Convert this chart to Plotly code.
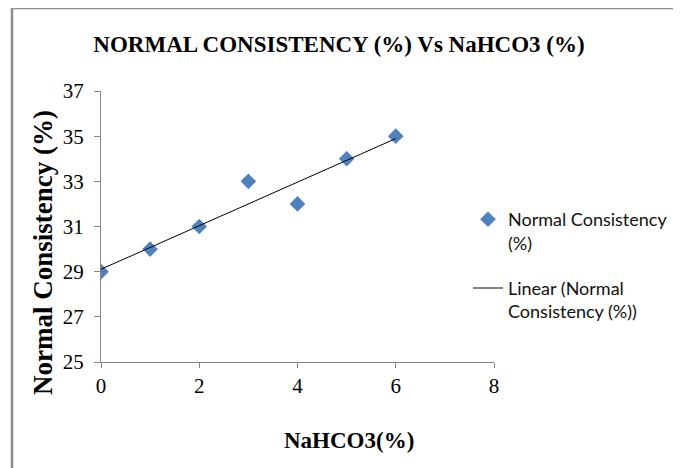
import numpy as np
import plotly.graph_objects as go

nahco3 = [0, 1, 2, 3, 4, 5, 6]
consistency = [29, 30, 31, 33, 32, 34, 35]
x_ticks = [0, 2, 4, 6, 8]
y_ticks = [25, 27, 29, 31, 33, 35, 37]

slope, intercept = np.polyfit(nahco3, consistency, 1)
trend_x = [min(nahco3), max(nahco3)]
trend_y = [intercept + slope * v for v in trend_x]

W, H = 681, 468
OFF = 8  # page body offset
PL, PT, PW, PH = 101, 91, 393, 271  # target plot area in screenshot pixels
L, T = PL - OFF, PT - OFF
R, B = W - L - PW, H - T - PH


def px(xs):
    return (xs - PL) / PW


def py(ys):
    return (PT + PH - ys) / PH


serif = "Liberation Serif, Times New Roman, serif"
axis_col = "#868686"

fig = go.Figure()
fig.add_trace(go.Scatter(
    x=nahco3, y=consistency, mode="markers",
    name="Normal Consistency<br>(%)",
    marker=dict(symbol="diamond", size=12, color="#4F81BD"),
    legendgroup="a",
))
fig.add_trace(go.Scatter(
    x=trend_x, y=trend_y, mode="lines",
    name="Linear (Normal<br>Consistency (%))",
    line=dict(color="#000000", width=1),
    legendgroup="b",
))

fig.update_layout(
    width=W, height=H,
    margin=dict(l=L, r=R, t=T, b=B),
    paper_bgcolor="white", plot_bgcolor="white",
    title=dict(text="<b>NORMAL CONSISTENCY (%) Vs NaHCO3 (%)</b>",
               x=(339 - OFF) / W, y=1 - (44 - OFF) / H,
               xanchor="center", yanchor="middle",
               font=dict(family=serif, size=23, color="#000")),
    xaxis=dict(range=[0, 8], tickvals=x_ticks, showgrid=False, zeroline=False,
               showline=True, linecolor=axis_col, linewidth=1,
               ticks="outside", ticklen=5, tickcolor=axis_col,
               tickfont=dict(family=serif, size=21, color="#000"),
               ticklabelstandoff=0),
    yaxis=dict(range=[25, 37], tickvals=y_ticks, showgrid=False, zeroline=False,
               showline=True, linecolor=axis_col, linewidth=1,
               ticks="outside", ticklen=6, tickcolor=axis_col,
               tickfont=dict(family=serif, size=21, color="#000"),
               ticklabelstandoff=6),
    legend=dict(x=px(468), y=py(201), xanchor="left", yanchor="top",
                valign="top",
                font=dict(family="Lato, sans-serif", size=18, color="#111"),
                tracegroupgap=19, bgcolor="rgba(0,0,0,0)"),
    showlegend=True,
)

fig.add_annotation(text="<b>Normal Consistency (%)</b>", textangle=-90,
                   xref="paper", yref="paper", x=px(43), y=py(253),
                   xanchor="center", yanchor="middle", showarrow=False,
                   font=dict(family=serif, size=27, color="#000"))
fig.add_annotation(text="<b>NaHCO3(%)</b>",
                   xref="paper", yref="paper", x=px(349), y=py(440),
                   xanchor="center", yanchor="middle", showarrow=False,
                   font=dict(family=serif, size=23, color="#000"))

# chart border (partially visible)
fig.add_shape(type="line", xref="paper", yref="paper",
              x0=px(12), y0=py(8), x1=px(W + 20), y1=py(8),
              line=dict(color="#8c8c8c", width=2.5))
fig.add_shape(type="line", xref="paper", yref="paper",
              x0=px(12), y0=py(8), x1=px(12), y1=py(H + 20),
              line=dict(color="#8c8c8c", width=2.5))

fig.write_html("out.html")
